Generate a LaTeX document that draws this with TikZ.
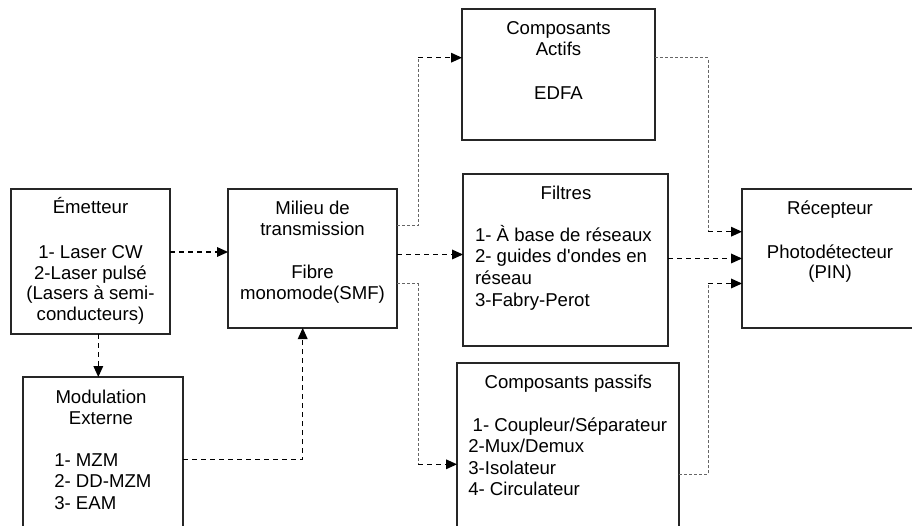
\documentclass[tikz,border=0pt]{standalone}
\usepackage{fontspec}
\setmainfont{Liberation Sans}[Ligatures=TeXOff]
\usetikzlibrary{arrows.meta}
\begin{document}
\begin{tikzpicture}[x=1pt,y=-1pt,
  boxnode/.style={draw=black!85, line width=1.1pt, rectangle, anchor=north west, inner sep=0pt, outer sep=0pt},
  txt/.style={inner sep=0pt, outer sep=0pt, anchor=base, font=\fontsize{18.6}{21}\selectfont},
  txtl/.style={txt, anchor=base west},
  arr/.style={line width=1.4pt, dash pattern=on 5pt off 4pt, arrows={-Stealth[length=11pt,width=10pt,inset=0pt,line width=0pt]}},
  fine/.style={line width=1pt, black!60, dash pattern=on 3pt off 2pt}]
\useasboundingbox (0,0) rectangle (912,526);
\clip (0,0) rectangle (912,526);
\fill[white] (0,0) rectangle (912,526);

% boxes
\node[boxnode, minimum width=159pt, minimum height=145pt] (em) at (11,189) {};
\node[boxnode, minimum width=160pt, minimum height=175pt] (mod) at (23,377) {};
\node[boxnode, minimum width=169pt, minimum height=139pt] (mil) at (228,189) {};
\node[boxnode, minimum width=193pt, minimum height=131pt] (act) at (462,9) {};
\node[boxnode, minimum width=205pt, minimum height=172pt] (fil) at (463,174) {};
\node[boxnode, minimum width=222pt, minimum height=180pt] (pas) at (457,363) {};
\node[boxnode, minimum width=176pt, minimum height=139pt] (rec) at (742,189) {};

% texts
\node[txt] (e1) at (90.5,213.5) {Émetteur};
\node[txt] (e2) at (90.5,258.3) {1- Laser CW};
\node[txt] (e3) at (90.5,279.3) {2-Laser pulsé};
\node[txt] (e4) at (90.5,300) {(Lasers à semi-};
\node[txt] (e5) at (90.5,320.5) {conducteurs)};

\node[txt] (m1) at (101,403.3) {Modulation};
\node[txt] (m2) at (101,424) {Externe};
\node[txtl] (m3) at (54.3,466.5) {1- MZM};
\node[txtl] (m4) at (54.3,487.7) {2- DD-MZM};
\node[txtl] (m5) at (54.3,509) {3- EAM};

\node[txt] (t1) at (312.5,215) {Milieu de};
\node[txt] (t2) at (312.5,236) {transmission};
\node[txt] (t3) at (312.5,278.3) {Fibre};
\node[txt] (t4) at (312.5,300) {monomode(SMF)};

\node[txt] (a1) at (558.5,35) {Composants};
\node[txt] (a2) at (558.5,56) {Actifs};
\node[txt] (a3) at (558.5,100) {EDFA};

\node[txt] (f1) at (566,199.3) {Filtres};
\node[txtl] (f2) at (475,241.5) {1- À base de réseaux};
\node[txtl] (f3) at (475,263) {2- guides d'ondes en};
\node[txtl] (f4) at (475,284.5) {réseau};
\node[txtl] (f5) at (475,306) {3-Fabry-Perot};

\node[txt] (p1) at (568.3,388.3) {Composants passifs};
\node[txtl] (p2) at (472.7,431) {1- Coupleur/Séparateur};
\node[txtl] (p3) at (468.3,452.5) {2-Mux/Demux};
\node[txtl] (p4) at (468.3,474) {3-Isolateur};
\node[txtl] (p5) at (468.3,495.5) {4- Circulateur};

\node[txt] (r1) at (830,215) {Récepteur};
\node[txt] (r2) at (830,258.3) {Photodétecteur};
\node[txt] (r3) at (830,279) {(PIN)};

% helper coordinates
\coordinate (h252) at (0,252);
\coordinate (v98) at (98.3,0);
\coordinate (h459) at (0,459.3);
\coordinate (v303) at (302.7,0);
\coordinate (h254) at (0,254.5);
\coordinate (h226) at (0,226);
\coordinate (h284) at (0,284);
\coordinate (k1) at (418,57.7);
\coordinate (k2) at (418,464.3);
\coordinate (h58) at (0,57.7);
\coordinate (k3) at (708,231.7);
\coordinate (h258) at (0,258.5);
\coordinate (h474) at (0,474.3);
\coordinate (k4) at (708,283.5);

% connectors
\draw[arr] (em.east |- h252) -- (mil.west |- h252);
\draw[arr] (em.south -| v98) -- (mod.north -| v98);
\draw[arr] (mod.east |- h459) -| (mil.south -| v303);
\draw[arr] (mil.east |- h254) -- (fil.west |- h254);
\draw[fine] (mil.east |- h226) -| (k1);
\draw[arr] (k1) -- (act.west |- k1);
\draw[fine] (mil.east |- h284) -| (k2);
\draw[arr] (k2) -- (pas.west |- k2);
\draw[fine] (act.east |- h58) -| (k3);
\draw[arr] (k3) -- (rec.west |- k3);
\draw[arr] (fil.east |- h258) -- (rec.west |- h258);
\draw[fine] (pas.east |- h474) -| (k4);
\draw[arr] (k4) -- (rec.west |- k4);
\end{tikzpicture}
\end{document}
